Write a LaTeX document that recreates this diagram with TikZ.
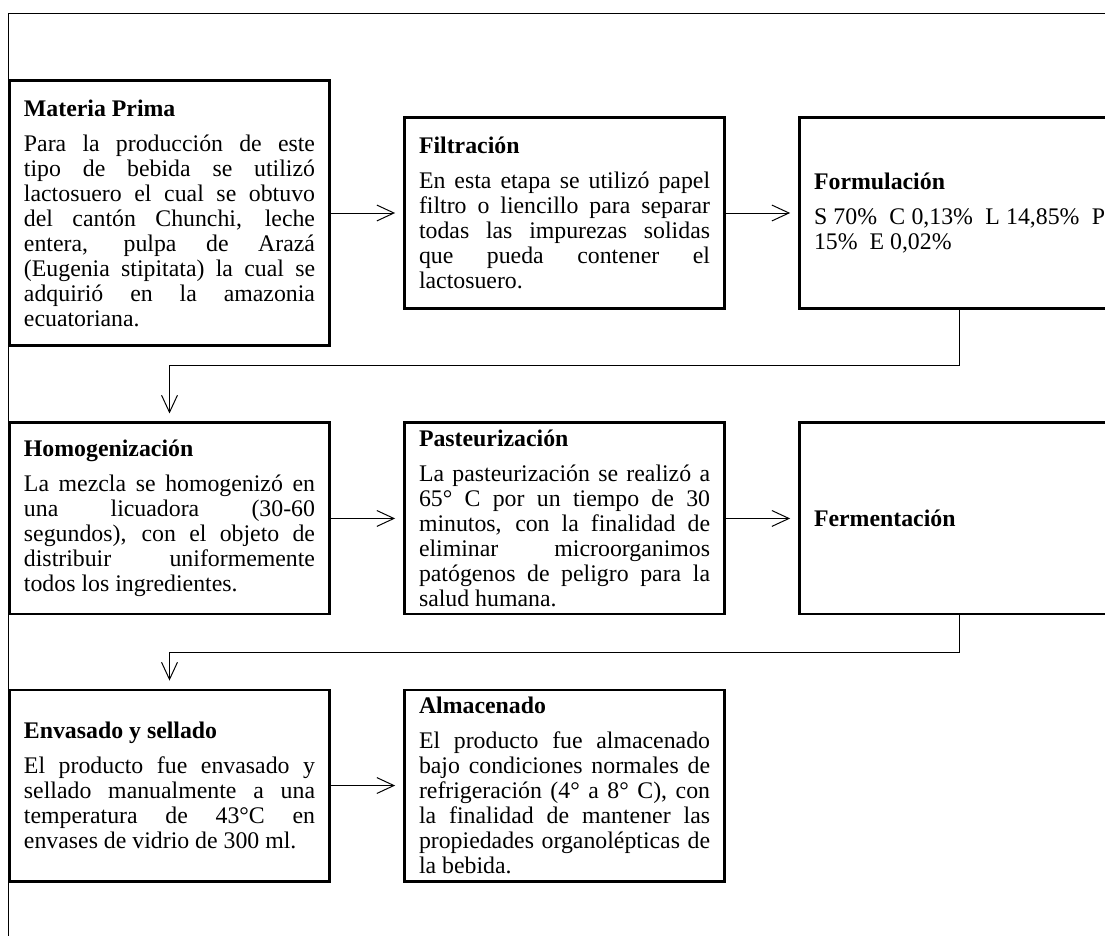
\documentclass[tikz,border=0pt]{standalone}
\usepackage{fontspec}
\setmainfont{Liberation Serif}
\usetikzlibrary{positioning, arrows.meta}
\tolerance=10000
\hbadness=10000
\tikzset{
    stepbox/.style={rectangle, draw=black, line width=1.5pt, text width=146.7pt, inner xsep=7.3pt, inner ysep=0pt, minimum width=161.3pt, minimum height=96.3pt, align=justify, font=\fontsize{12}{12.6}\selectfont},
    tallbox/.style={stepbox, minimum height=134pt},
    flow/.style={-{Straight Barb[length=8.6pt, width=8pt]}, line width=0.5pt, shorten >=4pt},
    frameline/.style={line width=0.5pt},
}
\newcommand{\steptitle}[1]{\textbf{#1}\par\vspace{5pt}}

\begin{document}
\begin{tikzpicture}[x=0.504pt, y=-0.504pt]
    \useasboundingbox (0,0) rectangle (1105,936);
    \clip (0,0) rectangle (1105,936);
    \draw[frameline] (8,936) -- (8,13) -- (1105,13);
    % first row
    \node [tallbox] (mat) at (169.5,213) {\steptitle{Materia Prima}Para la producción de este\linebreak tipo de bebida se utilizó\linebreak lactosuero el cual se obtuvo\linebreak del cantón Chunchi, leche\linebreak entera, pulpa de Arazá\linebreak (Eugenia stipitata) la cual se\linebreak adquirió en la amazonia\linebreak ecuatoriana.};
    \node [stepbox] (filt) [right=36.3pt of mat] {\steptitle{Filtración}En esta etapa se utilizó papel\linebreak filtro o liencillo para separar\linebreak todas las impurezas solidas\linebreak que pueda contener el\linebreak lactosuero.};
    \node [stepbox] (form) [right=36.3pt of filt] {\steptitle{Formulación}S 70\%~~C 0,13\%~~L 14,85\%~~P\linebreak 15\%~~E 0,02\%};
    % second row
    \node [stepbox] (homo) [below=37.3pt of mat] {\steptitle{Homogenización}La mezcla se homogenizó en\linebreak una licuadora (30-60\linebreak segundos), con el objeto de\linebreak distribuir uniformemente\linebreak todos los ingredientes.};
    \node [stepbox] (past) [right=36.3pt of homo] {\steptitle{Pasteurización}La pasteurización se realizó a\linebreak 65° C por un tiempo de 30\linebreak minutos, con la finalidad de\linebreak eliminar microorganimos\linebreak patógenos de peligro para la\linebreak salud humana.};
    \node [stepbox] (ferm) [right=36.3pt of past] {\textbf{Fermentación}};
    % third row
    \node [stepbox] (env) [below=36.8pt of homo] {\steptitle{Envasado y sellado}El producto fue envasado y\linebreak sellado manualmente a una\linebreak temperatura de 43°C en\linebreak envases de vidrio de 300 ml.};
    \node [stepbox] (alm) [right=36.3pt of env] {\steptitle{Almacenado}El producto fue almacenado\linebreak bajo condiciones normales de\linebreak refrigeración (4° a 8° C), con\linebreak la finalidad de mantener las\linebreak propiedades organolépticas de\linebreak la bebida.};
    \draw[flow] (mat.east) -- (filt.west);
    \draw[flow] (filt.east) -- (form.west);
    \draw[flow] (form.south) -- ++(0,55) -| (homo.north);
    \draw[flow] (homo.east) -- (past.west);
    \draw[flow] (past.east) -- (ferm.west);
    \draw[flow] (ferm.south) -- ++(0,37) -| (env.north);
    \draw[flow] (env.east) -- (alm.west);
\end{tikzpicture}
\end{document}
